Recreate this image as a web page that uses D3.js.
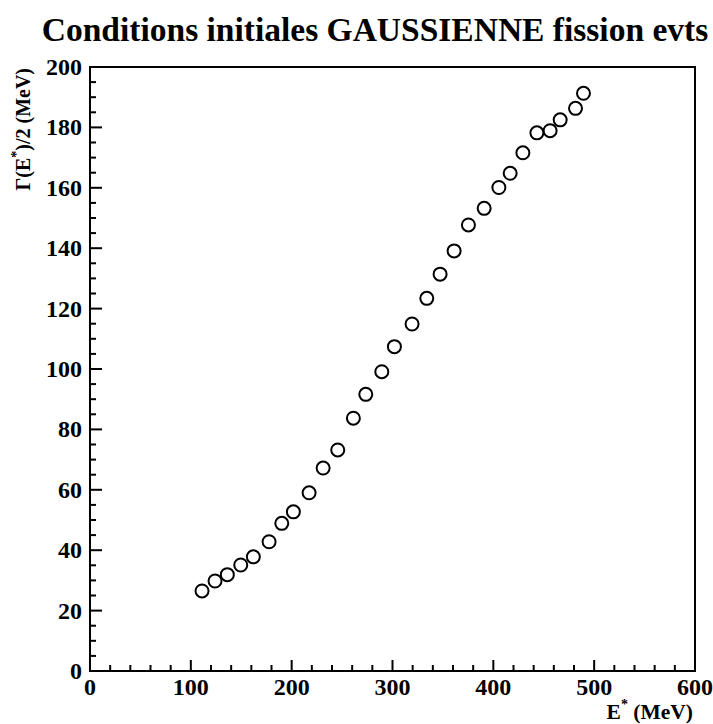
<!DOCTYPE html>
<html><head><meta charset="utf-8">
<script src="https://cdn.jsdelivr.net/npm/d3@7"></script>
<style>body{margin:0;background:#fff}svg{display:block}</style>
</head><body>
<script>
const energy = [111.1,124,136.2,149.5,162,177.6,190.2,201.7,217.3,231.2,245.7,261.2,273.5,289.4,301.9,319.4,334,347.2,361.1,375.3,390.9,405.5,416.7,429.3,443.2,456.3,466.3,481.5,489.4];
const halfWidth = [26.5,29.8,31.9,35.1,37.8,42.8,48.9,52.7,59,67.2,73.2,83.7,91.6,99.1,107.4,114.9,123.4,131.4,139.1,147.7,153.2,160.1,164.8,171.6,178.2,178.9,182.5,186.3,191.3];
const xTicks = [0,100,200,300,400,500,600];
const yTicks = [0,20,40,60,80,100,120,140,160,180,200];
const titleText = "Conditions initiales GAUSSIENNE fission evts";

const FONT = "'Liberation Serif', 'DejaVu Serif', serif";
const W=713,H=724, L=90,R=695,T=67,B=671;
const svg=d3.select("body").append("svg").attr("width",W).attr("height",H)
  .attr("font-family",FONT).attr("font-weight","bold");
const x=d3.scaleLinear().domain([0,600]).range([L,R]);
const y=d3.scaleLinear().domain([0,200]).range([B,T]);

const xMinor=d3.range(0,601,20).filter(v=>v%100!==0);
const yMinor=d3.range(0,201,5).filter(v=>v%20!==0);
const g=svg.append("g").attr("stroke","#000").attr("stroke-width",2);
g.selectAll(".xm").data(xMinor).join("line").attr("x1",d=>x(d)).attr("x2",d=>x(d)).attr("y1",B).attr("y2",B-6);
g.selectAll(".xM").data(xTicks).join("line").attr("x1",d=>x(d)).attr("x2",d=>x(d)).attr("y1",B).attr("y2",B-11);
g.selectAll(".ym").data(yMinor).join("line").attr("y1",d=>y(d)).attr("y2",d=>y(d)).attr("x1",L).attr("x2",L+6);
g.selectAll(".yM").data(yTicks).join("line").attr("y1",d=>y(d)).attr("y2",d=>y(d)).attr("x1",L).attr("x2",L+12);
svg.append("rect").attr("x",L).attr("y",T).attr("width",R-L).attr("height",B-T).attr("fill","none").attr("stroke","#000").attr("stroke-width",2);

svg.selectAll(".xl").data(xTicks).join("text").attr("x",d=>x(d)).attr("y",B+24).attr("text-anchor","middle").attr("font-size",24).text(d=>d);
svg.selectAll(".yl").data(yTicks).join("text").attr("x",L-8).attr("y",d=>y(d)+8).attr("text-anchor","end").attr("font-size",24).text(d=>d);

svg.selectAll("circle").data(energy.map((e,i)=>[e,halfWidth[i]])).join("circle")
 .attr("cx",d=>x(d[0])).attr("cy",d=>y(d[1])).attr("r",6.5).attr("fill","none").attr("stroke","#000").attr("stroke-width",2);

svg.append("text").attr("x",375).attr("y",41).attr("text-anchor","middle").attr("font-size",33.5).text(titleText);

const xl=svg.append("text").attr("x",693).attr("y",719).attr("text-anchor","end").attr("font-size",21.5);
xl.append("tspan").text("E");
xl.append("tspan").attr("dy",-10).attr("font-size",14).text("*");
xl.append("tspan").attr("dy",10).text(" (MeV)");

const yl=svg.append("text").attr("transform",`translate(30,${T+1}) rotate(-90)`).attr("text-anchor","end").attr("font-size",20);
yl.append("tspan").text("Γ(E");
yl.append("tspan").attr("dy",-9).attr("font-size",14).text("*");
yl.append("tspan").attr("dy",9).text(")/2 (MeV)");
</script>
</body></html>
